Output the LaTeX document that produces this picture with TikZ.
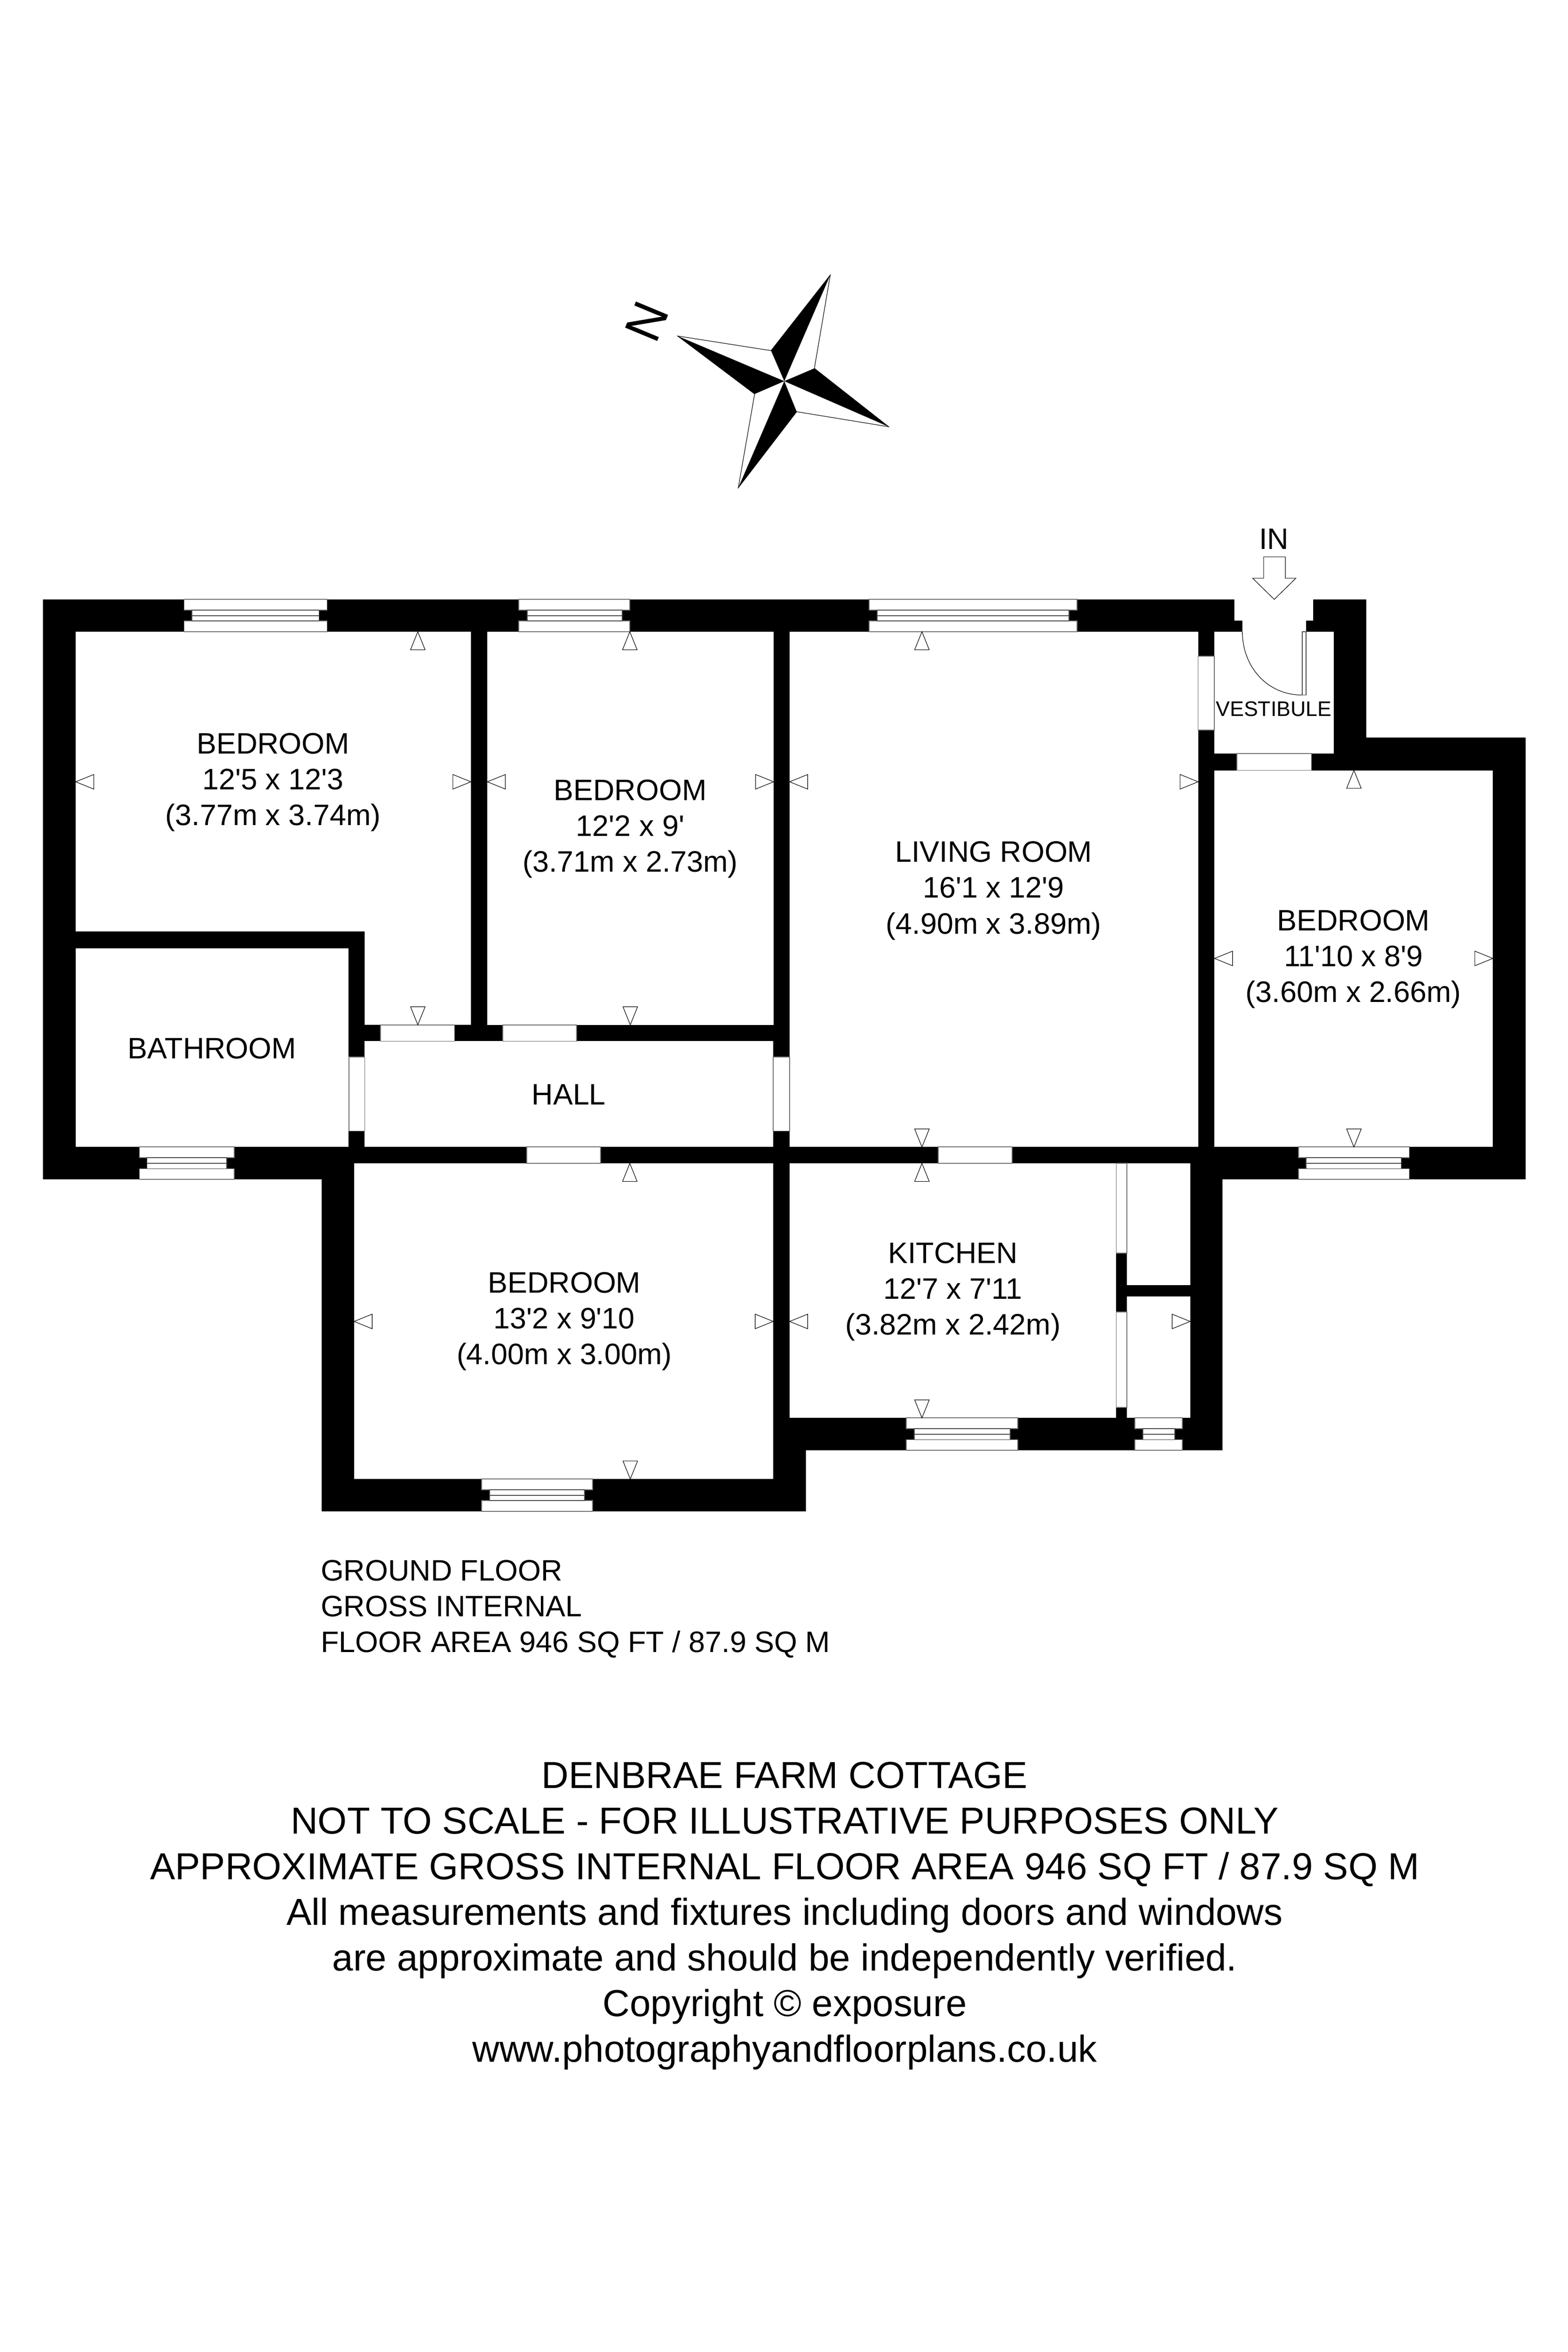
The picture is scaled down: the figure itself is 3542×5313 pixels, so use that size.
\documentclass[tikz,border=0pt]{standalone}
\usepackage{fontspec}
\newfontfamily\planfont{Liberation Sans}
\tikzset{
    wall/.style={fill=black},
    room/.style={fill=white},
    opening/.style={fill=white, draw=black!55, line width=0.02cm},
    sash/.style={fill=white, draw=black!70, line width=0.02cm},
    tick/.style={fill=white, draw=black, line width=0.012cm, line join=miter},
    roomlabel/.style={font=\planfont\fontsize{19}{23}\selectfont, align=center, inner sep=0pt},
    smalllabel/.style={font=\planfont\fontsize{13.5}{16}\selectfont, inner sep=0pt},
    notelabel/.style={font=\planfont\fontsize{24.15}{29.3}\selectfont, align=center, inner sep=0pt}
}
\begin{document}
\begin{tikzpicture}[x=0.01cm, y=-0.01cm]
    \useasboundingbox (0,0) rectangle (3542,5313);
    \fill[white] (0,0) rectangle (3542,5313);

    % walls
    \fill[wall] (97,1354) -- (3087,1354) -- (3087,1666) -- (3447,1666) -- (3447,2664) -- (2762,2664)
        -- (2762,3276) -- (1821,3276) -- (1821,3414) -- (727,3414) -- (727,2664) -- (97,2664) -- cycle;

    % rooms
    \fill[room] (171,1427) -- (1064,1427) -- (1064,2315) -- (824,2315) -- (824,2104) -- (171,2104) -- cycle;
    \foreach \xa/\ya/\xb/\yb in {171/2142/787/2591, 1101/1427/1748/2315, 1784/1427/2707/2591,
        824/2352/1747/2591, 2744/1427/3013/1702, 2744/1740/3373/2591, 800/2628/1747/3341,
        1784/2628/2522/3203, 2546/2628/2689/2903, 2546/2928/2689/3203}
        \fill[room] (\xa,\ya) rectangle (\xb,\yb);
    \fill[room] (2789,1350) -- (2789,1402) -- (2807,1402) -- (2807,1430) -- (2951,1430)
        -- (2951,1402) -- (2967,1402) -- (2967,1350) -- cycle;

    % door openings
    \foreach \xa/\ya/\xb/\yb in {788/2388/824/2555, 1747/2388/1784/2555, 2707/1482/2744/1649,
        2795/1702/2963/1740, 860/2315/1027/2352, 1136/2315/1303/2352, 1190/2591/1357/2628,
        2120/2591/2287/2628, 2522/2628/2546/2831, 2522/2964/2546/3179}
        \draw[opening] (\xa,\ya) rectangle (\xb,\yb);

    % windows
    \foreach \xa/\xb/\xc/\xd/\ya in {416/739/434/721/1354, 1172/1423/1191/1406/1354, 1964/2433/1982/2415/1354,
        315/529/332/512/2591, 2934/3184/2951/3166/2591, 1088/1339/1106/1321/3341,
        2048/2299/2066/2282/3203, 2564/2671/2582/2654/3203} {
        \draw[opening] (\xa,\ya) rectangle (\xb,\ya+24);
        \draw[opening] (\xa,\ya+49) rectangle (\xb,\ya+73);
        \draw[sash] (\xc,\ya+24) rectangle (\xd,\ya+49);
        \draw[sash] (\xc,\ya+36.5) -- (\xd,\ya+36.5);
    }

    % entrance door
    \draw[sash] (2942,1427) rectangle (2951,1570);
    \draw[line width=0.012cm] (2807,1427) .. controls (2807,1506) and (2863,1570) .. (2942,1570);

    % size marks, the angle points from the tip into the room
    \foreach \px/\py/\ang in {171/1766/0, 1101/1766/0, 1784/1766/0, 2744/2165/0, 800/2985/0, 1784/2985/0,
        1064/1766/180, 1748/1766/180, 2707/1766/180, 3373/2165/180, 1747/2985/180, 2689/2985/180,
        944/1427/90, 1423/1427/90, 2083/1427/90, 3059/1740/90, 1423/2628/90, 2083/2628/90,
        944/2315/270, 1424/2315/270, 2083/2591/270, 3059/2591/270, 1424/3341/270, 2083/3203/270}
        \draw[tick] (\px,\py) -- ++(\ang-22:44) -- ++(\ang+90:33) -- cycle;

    % entry arrow
    \draw[tick] (2855,1258) -- (2904,1258) -- (2904,1306) -- (2928,1306) -- (2879,1354)
        -- (2830,1306) -- (2855,1306) -- cycle;
    \node[roomlabel, anchor=base] (entry) at (2878,1241) {IN};

    % compass
    \coordinate (starc) at (1772,861);
    \draw[line width=0.012cm, line join=miter] (1876,621) -- (1840,832) -- (2008,964) -- (1800,930)
        -- (1668,1102) -- (1705,890) -- (1531,759) -- (1742,792) -- cycle;
    \fill[black] (starc) -- (1742,792) -- (1876,621) -- cycle;
    \fill[black] (starc) -- (1840,832) -- (2008,964) -- cycle;
    \fill[black] (starc) -- (1800,930) -- (1668,1102) -- cycle;
    \fill[black] (starc) -- (1705,890) -- (1531,759) -- cycle;
    \node[font=\planfont\fontsize{32.5}{40}\selectfont, inner sep=0pt, rotate=67.4] (north) at (1461,726) {N};

    % room names
    \node[roomlabel] (bedrooma) at (617,1767) {BEDROOM\\12'5 x 12'3\\(3.77m x 3.74m)};
    \node[roomlabel] (bedroomb) at (1424,1872) {BEDROOM\\12'2 x 9'\\(3.71m x 2.73m)};
    \node[roomlabel] (living) at (2245,2012) {LIVING ROOM\\16'1 x 12'9\\(4.90m x 3.89m)};
    \node[roomlabel] (bedroomc) at (3058,2167) {BEDROOM\\11'10 x 8'9\\(3.60m x 2.66m)};
    \node[roomlabel] (bedroomd) at (1275,2985) {BEDROOM\\13'2 x 9'10\\(4.00m x 3.00m)};
    \node[roomlabel] (kitchen) at (2153,2918) {KITCHEN\\12'7 x 7'11\\(3.82m x 2.42m)};
    \node[roomlabel, anchor=base] (bathroom) at (479,2391) {BATHROOM};
    \node[roomlabel, anchor=base] (hall) at (1285,2496) {HALL};
    \node[smalllabel, anchor=base] (vestibule) at (2878,1618) {VESTIBULE};

    % notes
    \node[roomlabel, anchor=base west, align=left] (floorone) at (724,3571) {GROUND FLOOR};
    \node[roomlabel, anchor=base west, align=left] (floortwo) at (724,3652) {GROSS INTERNAL};
    \node[roomlabel, anchor=base west, align=left] (floorthree) at (724,3732) {FLOOR AREA 946 SQ FT / 87.9 SQ M};
    \node[notelabel] (notes) at (1773,4328) {DENBRAE FARM COTTAGE\\NOT TO SCALE - FOR ILLUSTRATIVE PURPOSES ONLY\\APPROXIMATE GROSS INTERNAL FLOOR AREA 946 SQ FT / 87.9 SQ M\\All measurements and fixtures including doors and windows\\are approximate and should be independently verified.\\Copyright © exposure\\www.photographyandfloorplans.co.uk};
\end{tikzpicture}
\end{document}
